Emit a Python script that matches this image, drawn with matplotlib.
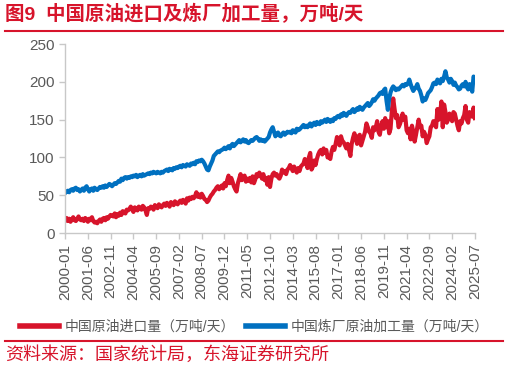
import numpy as np
import matplotlib
matplotlib.use("Agg")
from matplotlib import pyplot as plt
from matplotlib.lines import Line2D

plt.rcParams['font.family'] = ['Liberation Sans', 'Noto Sans CJK SC', 'DejaVu Sans']

# monthly data, 2000-01 .. 2025-07 (万吨/天)
imports = [
    17, 20, 16, 19, 15, 18, 21, 17, 16, 19, 22, 18,
    17, 19, 16, 20, 18, 15, 19, 17, 21, 16, 14, 15,
    13, 16, 18, 15, 19, 20, 17, 21, 19, 22, 24, 23,
    22, 26, 21, 25, 23, 27, 24, 29, 28, 26, 31, 30,
    32, 35, 31, 28, 34, 32, 30, 35, 33, 31, 36, 34,
    30, 24, 33, 32, 35, 34, 31, 37, 35, 33, 38, 36,
    34, 37, 39, 36, 40, 38, 35, 41, 39, 37, 42, 40,
    38, 41, 43, 40, 44, 42, 39, 46, 43, 47, 45, 48,
    46, 49, 54, 48, 51, 47, 52, 49, 45, 44, 41, 43,
    47, 50, 52, 55, 57, 60, 62, 58, 61, 63, 59, 66,
    62, 70, 76, 66, 73, 68, 62, 58, 55, 66, 72, 78,
    70, 74, 76, 68, 72, 69, 73, 67, 75, 66, 71, 78,
    75, 80, 77, 72, 78, 70, 73, 64, 74, 61, 72, 78,
    80, 76, 78, 74, 72, 76, 84, 80, 82, 78, 84, 86,
    90, 86, 82, 88, 84, 80, 86, 82, 88, 90, 92, 98,
    92, 86, 100, 106, 84, 88, 96, 90, 98, 104, 108, 110,
    104, 112, 106, 110, 100, 102, 98, 108, 114, 110, 118, 127,
    124, 116, 128, 122, 120, 116, 112, 118, 110, 102, 118, 126,
    132, 126, 118, 128, 130, 116, 122, 128, 134, 145, 140, 134,
    132, 126, 140, 136, 140, 148, 134, 130, 142, 148, 138, 152,
    140, 148, 132, 138, 162, 178, 164, 152, 156, 140, 144, 150,
    158, 150, 154, 136, 132, 138, 124, 142, 134, 121, 130, 140,
    150, 140, 142, 128, 134, 130, 119, 124, 128, 140, 142, 148,
    146, 140, 164, 150, 158, 174, 140, 170, 160, 146, 150, 158,
    154, 148, 160, 158, 150, 142, 136, 148, 145, 152, 156, 168,
    150, 146, 160, 156, 154, 166, 152,
]

refining = [
    53, 55, 56, 54, 57, 58, 56, 59, 60, 57, 58, 55,
    57, 59, 56, 60, 62, 58, 55, 58, 59, 56, 60, 58,
    57, 59, 61, 60, 62, 60, 63, 61, 63, 65, 64, 62,
    64, 66, 65, 67, 69, 68, 72, 70, 73, 74, 72, 74,
    73, 75, 74, 76, 75, 77, 74, 76, 77, 75, 78, 76,
    77, 78, 79, 78, 80, 79, 81, 80, 79, 81, 80, 79,
    81, 80, 82, 83, 84, 82, 85, 84, 83, 86, 85, 87,
    86, 88, 89, 87, 90, 89, 88, 91, 90, 89, 92, 91,
    93, 91, 95, 94, 96, 95, 97, 95, 92, 88, 84, 83,
    88, 92, 96, 102, 104, 106, 108, 107, 109, 110, 111, 113,
    111, 113, 115, 112, 116, 118, 115, 117, 119, 121, 123, 120,
    122, 124, 121, 123, 120, 119, 121, 123, 122, 124, 126, 127,
    125, 122, 124, 122, 123, 121, 123, 125, 127, 133, 137, 140,
    134, 128, 131, 133, 129, 128, 131, 133, 130, 132, 134, 133,
    134, 132, 136, 135, 133, 138, 136, 137, 139, 141, 143, 140,
    142, 140, 143, 145, 141, 144, 146, 143, 147, 145, 144, 148,
    146, 148, 150, 147, 151, 149, 147, 150, 148, 152, 151, 154,
    155, 153, 157, 155, 159, 157, 155, 158, 160, 159, 162, 164,
    160, 162, 165, 163, 167, 165, 163, 166, 168, 170, 172, 168,
    170, 173, 177, 175, 178, 180, 182, 185, 186, 184, 189, 191,
    175, 163, 178, 186, 191, 194, 192, 189, 191, 190, 192, 194,
    196, 194, 197, 196, 198, 203, 197, 192, 188, 191, 193, 197,
    191, 188, 182, 174, 178, 176, 180, 185, 187, 189, 193, 198,
    199, 197, 203, 200, 198, 204, 201, 207, 214, 206, 203, 199,
    204, 201, 196, 199, 195, 193, 190, 191, 195, 197, 194, 200,
    193, 190, 197, 195, 187, 207, 204,
]

months = [f"{2000 + i // 12}-{i % 12 + 1:02d}" for i in range(len(imports))]

RED = '#D7142B'
BLUE = '#0070C0'
GRAY = '#595959'

fig = plt.figure(figsize=(5.09, 3.70), dpi=100)
ax = fig.add_axes([0.128, 0.370, 0.805, 0.511])

x = np.arange(len(months))
ax.plot(x, imports, color=RED, lw=3.0, solid_joinstyle='round',
        label='中国原油进口量（万吨/天）')
ax.plot(x, refining, color=BLUE, lw=3.0, solid_joinstyle='round',
        label='中国炼厂原油加工量（万吨/天）')

ax.set_xlim(0, len(months) - 1)
ax.set_ylim(0, 250)
ax.set_yticks(range(0, 251, 50))
ticks = list(range(0, len(months), 17))
ax.set_xticks(ticks)
ax.set_xticklabels([months[i] for i in ticks], rotation=90)

for s in ['top', 'right']:
    ax.spines[s].set_visible(False)
for s in ['left', 'bottom']:
    ax.spines[s].set_color('#c8c8c8')
    ax.spines[s].set_linewidth(1)
ax.tick_params(axis='both', colors='#c8c8c8', labelcolor=GRAY, labelsize=11,
               length=4, width=1)

# header / footer
fig.text(0.010, 0.962, '图9  中国原油进口及炼厂加工量，万吨/天', color=RED,
         fontsize=14, fontweight='bold', va='center', ha='left')
fig.add_artist(Line2D([0.010, 0.988], [0.916, 0.916], color=RED, lw=1.5))
fig.add_artist(Line2D([0.010, 0.988], [0.078, 0.078], color=RED, lw=1.5))
fig.text(0.010, 0.040, '资料来源：国家统计局，东海证券研究所', color=RED,
         fontsize=13, va='center', ha='left')

leg = fig.legend(loc='center', bbox_to_anchor=(0.5, 0.117), ncol=2,
                 frameon=False, fontsize=10, handlelength=2.8,
                 columnspacing=0.8, handletextpad=0.4)
for t in leg.get_texts():
    t.set_color(GRAY)
for h in leg.get_lines():
    h.set_linewidth(4)

fig.savefig('out.png', dpi=100)
